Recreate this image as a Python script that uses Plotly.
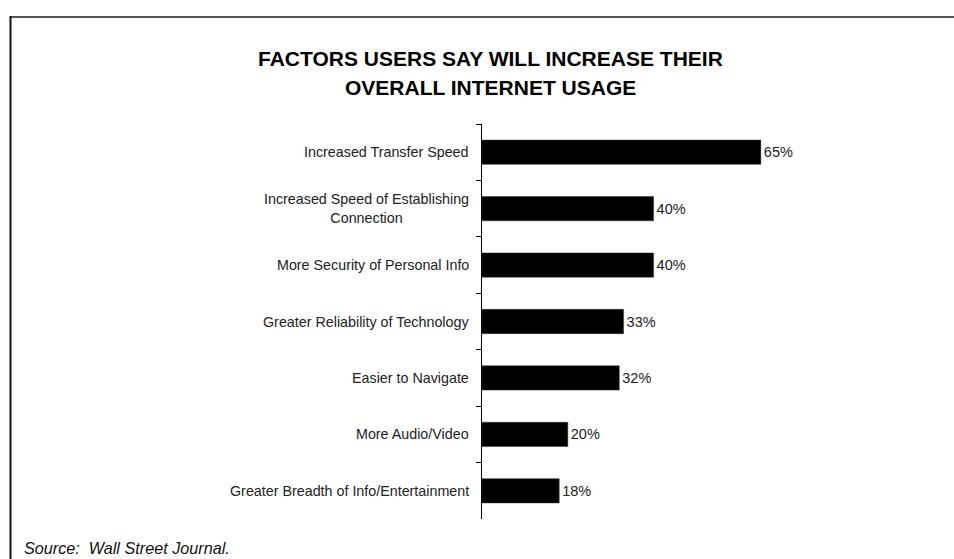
import plotly.graph_objects as go

categories = [
    "Increased Transfer Speed",
    "Increased Speed of Establishing<br>Connection",
    "More Security of Personal Info",
    "Greater Reliability of Technology",
    "Easier to Navigate",
    "More Audio/Video",
    "Greater Breadth of Info/Entertainment",
]
shares = [65, 40, 40, 33, 32, 20, 18]

title_lines = ["FACTORS USERS SAY WILL INCREASE THEIR", "OVERALL INTERNET USAGE"]
source_text = "Source:  Wall Street Journal."

W, H = 954, 559
plot_left, plot_right = 482, 911
plot_top, plot_bottom = 124, 519
pw = plot_right - plot_left
ph = plot_bottom - plot_top

FONT = "Liberation Sans, Arial, sans-serif"


def px_x(x):
    return (x - plot_left) / pw


def px_y(y):
    return (plot_bottom - y) / ph


fig = go.Figure(
    go.Bar(
        x=shares,
        y=categories,
        orientation="h",
        width=0.43,
        marker=dict(color="#000000", line=dict(color="#333333", width=0.5)),
        text=[f"{v}%" for v in shares],
        textposition="outside",
        textfont=dict(family=FONT, size=14.5, color="#222222"),
        cliponaxis=False,
    )
)

# category labels beside the axis, centred line by line
for cat in categories:
    fig.add_annotation(
        x=px_x(471), xref="paper", xanchor="right",
        y=cat, yref="y", yanchor="middle",
        text=cat, showarrow=False, align="center",
        font=dict(family=FONT, size=14.3, color="#222222"),
    )

# two-line heading
for line, yc in zip(title_lines, [58.5, 88]):
    fig.add_annotation(
        x=px_x(490), xref="paper", xanchor="center",
        y=px_y(yc), yref="paper", yanchor="middle",
        text=f"<b>{line}</b>", showarrow=False,
        font=dict(family=FONT, size=21, color="#000000"),
    )

fig.add_annotation(
    x=px_x(22), xref="paper", xanchor="left",
    y=px_y(559), yref="paper", yanchor="bottom",
    text=f"<i>{source_text}</i>", showarrow=False, align="left",
    font=dict(family=FONT, size=16.2, color="#111111"),
)

# outer frame: top and left edges
fig.add_shape(type="line", xref="paper", yref="paper",
              x0=px_x(10), x1=px_x(960), y0=px_y(17), y1=px_y(17),
              line=dict(color="#555555", width=2))
fig.add_shape(type="line", xref="paper", yref="paper",
              x0=px_x(10.5), x1=px_x(10.5), y0=px_y(16), y1=px_y(570),
              line=dict(color="#111111", width=2))

fig.update_layout(
    width=W, height=H,
    margin=dict(l=plot_left, r=W - plot_right, t=plot_top, b=H - plot_bottom, pad=0),
    paper_bgcolor="#ffffff", plot_bgcolor="#ffffff",
    showlegend=False,
    font=dict(family=FONT),
)
fig.update_xaxes(range=[0, 100], visible=False, fixedrange=True)
fig.update_yaxes(
    autorange="reversed",
    showticklabels=False,
    showline=True, linecolor="#000000", linewidth=1,
    ticks="outside", tickson="boundaries", ticklen=5, tickcolor="#000000", tickwidth=1,
    showgrid=False, zeroline=False,
)

fig.write_html("out.html")
